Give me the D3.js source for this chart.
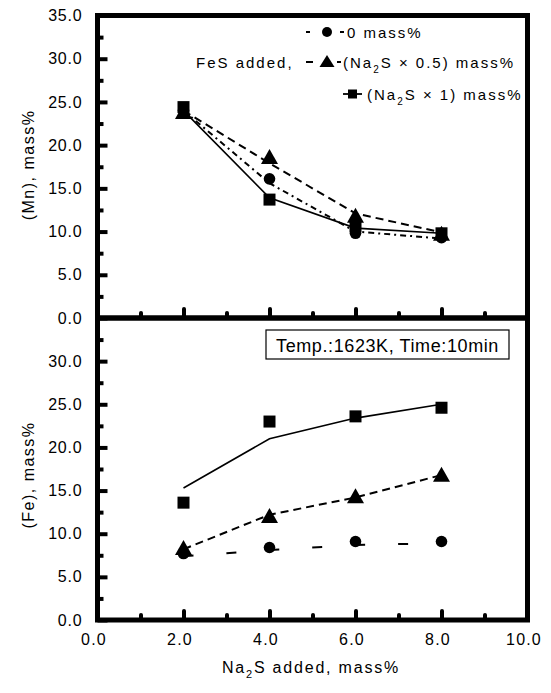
<!DOCTYPE html>
<html><head><meta charset="utf-8">
<script src="https://cdn.jsdelivr.net/npm/d3@7"></script>
<style>
body{margin:0;background:#fff}
text{font-family:"Liberation Sans",Arial,sans-serif;fill:#000}
</style></head><body>
<svg id="c" width="551" height="693"></svg>
<script>
// ---- data ----
const xValues=[2,4,6,8];
const mnZero=[24.0,16.1,9.8,9.3];
const mnHalf=[23.9,18.7,11.9,9.8];
const mnOne=[24.4,13.7,10.6,9.8];
const mnZeroFit=[24.0,15.6,10.0,9.2];
const mnHalfFit=[24.0,17.9,12.1,9.9];
const mnOneFit=[24.0,13.9,10.4,9.8];
const feZero=[7.7,8.4,9.1,9.1];
const feHalf=[8.4,12.1,14.4,16.9];
const feOne=[13.6,23.0,23.6,24.6];
const feZeroFit=[7.4,8.1,8.7,8.9];
const feHalfFit=[8.2,12.2,14.2,16.8];
const feOneFit=[15.3,21.0,23.4,25.0];
const xTickLabels=[0,2,4,6,8,10];
const xMinorTicks=[1,3,5,7,9];
const yTicksTop=[0,5,10,15,20,25,30,35];
const yTicksBottom=[0,5,10,15,20,25,30];
const yMinor=[2.5,7.5,12.5,17.5,22.5,27.5,32.5];
const seriesNames=["0 mass%","(Na2S × 0.5) mass%","(Na2S × 1) mass%"];

const svg=d3.select("#c");
const x=d3.scaleLinear().domain([0,10]).range([97.5,527.5]);
const yTop=d3.scaleLinear().domain([0,35]).range([318,15.5]);
const yBot=d3.scaleLinear().domain([0,35]).range([620,318]);

const dashZero="6,4,2,4", dashHalf="8,5";

function triPath(cx,cy,w,h){return `M${cx-w/2},${cy+h/2}L${cx},${cy-h/2}L${cx+w/2},${cy+h/2}Z`;}

function panel(y, fits, pts, zeroDash){
  const line=d3.line().x((d,i)=>x(xValues[i])).y(d=>y(d));
  svg.append("path").attr("d",line(fits[0])).attr("fill","none").attr("stroke","#000").attr("stroke-width",2).attr("stroke-dasharray",zeroDash);
  svg.append("path").attr("d",line(fits[1])).attr("fill","none").attr("stroke","#000").attr("stroke-width",2).attr("stroke-dasharray",dashHalf);
  svg.append("path").attr("d",line(fits[2])).attr("fill","none").attr("stroke","#000").attr("stroke-width",1.6);
  svg.append("g").selectAll("circle").data(pts[0]).join("circle")
    .attr("cx",(d,i)=>x(xValues[i])).attr("cy",d=>y(d)).attr("r",5.8).attr("fill","#000");
  svg.append("g").selectAll("path").data(pts[1]).join("path")
    .attr("d",(d,i)=>triPath(x(xValues[i]),y(d),17,15)).attr("fill","#000");
  svg.append("g").selectAll("rect").data(pts[2]).join("rect")
    .attr("x",(d,i)=>x(xValues[i])-6).attr("y",d=>y(d)-6).attr("width",12).attr("height",12).attr("fill","#000");
}

panel(yTop,[mnZeroFit,mnHalfFit,mnOneFit],[mnZero,mnHalf,mnOne],dashZero);
panel(yBot,[feZeroFit,feHalfFit,feOneFit],[feZero,feHalf,feOne],"10,33");

function yTicks(y, majors){
  const gM=svg.append("g").attr("transform","translate(97.5,0)")
    .call(d3.axisLeft(y).tickValues(majors).tickSize(-10).tickFormat(d3.format(".1f")).tickPadding(15));
  gM.select(".domain").remove();
  gM.selectAll("line").attr("stroke-width",4).attr("stroke","#000");
  gM.selectAll("text").style("font-size","16px").style("letter-spacing","0.8px").attr("fill","#000");
  const gm=svg.append("g").attr("transform","translate(97.5,0)")
    .call(d3.axisLeft(y).tickValues(yMinor).tickSize(-6).tickFormat(""));
  gm.select(".domain").remove();
  gm.selectAll("line").attr("stroke-width",4).attr("stroke","#000");
}
yTicks(yTop,yTicksTop);
yTicks(yBot,yTicksBottom);

function xTicks(y0, labels){
  const gM=svg.append("g").attr("transform",`translate(0,${y0})`)
    .call(d3.axisBottom(x).tickValues([2,4,6,8]).tickSize(-7).tickFormat(""));
  gM.select(".domain").remove();
  gM.selectAll("line").attr("stroke-width",4).attr("stroke","#000").attr("stroke-linecap","round");
  const gm=svg.append("g").attr("transform",`translate(0,${y0})`)
    .call(d3.axisBottom(x).tickValues(xMinorTicks).tickSize(-3).tickFormat(""));
  gm.select(".domain").remove();
  gm.selectAll("line").attr("stroke-width",4).attr("stroke","#000").attr("stroke-linecap","round");
  if(labels){
    const gl=svg.append("g").attr("transform",`translate(-4,${y0})`)
      .call(d3.axisBottom(x).tickValues(xTickLabels).tickSize(0).tickPadding(16).tickFormat(d3.format(".1f")));
    gl.select(".domain").remove();
    gl.selectAll("text").style("font-size","16px").style("letter-spacing","1.2px").attr("fill","#000");
  }
}
xTicks(yTop(0)-2,false);
xTicks(yBot(0)-2,true);

svg.append("rect").attr("x",x(0)).attr("y",yTop(35)).attr("width",x(10)-x(0)).attr("height",yTop(0)-yTop(35))
  .attr("fill","none").attr("stroke","#000").attr("stroke-width",5);
svg.append("rect").attr("x",x(0)).attr("y",yBot(35)).attr("width",x(10)-x(0)).attr("height",yBot(0)-yBot(35))
  .attr("fill","none").attr("stroke","#000").attr("stroke-width",5);

function yTitle(cy, name){
  svg.append("text").attr("transform",`translate(34,${cy}) rotate(-90)`).attr("text-anchor","middle")
    .style("font-size","16px").style("letter-spacing","1.5px").text(name);
}
yTitle(165,"(Mn), mass%");
yTitle(475,"(Fe), mass%");

const xt=svg.append("text").attr("x",311).attr("y",673).attr("text-anchor","middle").style("font-size","16px").style("letter-spacing","1.8px");
xt.append("tspan").text("Na");
xt.append("tspan").attr("dy",5).style("font-size","11px").text("2");
xt.append("tspan").attr("dy",-5).text("S added, mass%");

svg.append("rect").attr("x",266).attr("y",330).attr("width",243).attr("height",29).attr("fill","#fff").attr("stroke","#000").attr("stroke-width",1.2);
svg.append("text").attr("x",387.5).attr("y",352).attr("text-anchor","middle").style("font-size","18px").style("letter-spacing","0.6px").text("Temp.:1623K, Time:10min");

const lg=svg.append("g");
const fs="15px", ls="2px";
function sub(t, pre, post){
  t.append("tspan").text(pre);
  t.append("tspan").attr("dy",5).style("font-size","10px").text("2");
  t.append("tspan").attr("dy",-5).text(post);
}
const mx=327;
const r1=32;
lg.append("line").attr("x1",306).attr("x2",310).attr("y1",r1).attr("y2",r1).attr("stroke","#000").attr("stroke-width",2);
lg.append("circle").attr("cx",mx).attr("cy",r1).attr("r",5).attr("fill","#000");
lg.append("line").attr("x1",340).attr("x2",344).attr("y1",r1).attr("y2",r1).attr("stroke","#000").attr("stroke-width",2);
lg.append("text").attr("x",347).attr("y",r1+5.5).style("font-size",fs).style("letter-spacing",ls).text(seriesNames[0]);
const r2=62;
lg.append("text").attr("x",196).attr("y",r2+5.5).style("font-size",fs).style("letter-spacing",ls).text("FeS added,");
lg.append("line").attr("x1",306).attr("x2",313).attr("y1",r2).attr("y2",r2).attr("stroke","#000").attr("stroke-width",2);
lg.append("path").attr("d",triPath(mx,r2-1,15,12)).attr("fill","#000");
lg.append("line").attr("x1",337).attr("x2",341).attr("y1",r2).attr("y2",r2).attr("stroke","#000").attr("stroke-width",2);
sub(lg.append("text").attr("x",343).attr("y",r2+5.5).style("font-size",fs).style("letter-spacing",ls),"(Na","S × 0.5) mass%");
const r3=94;
lg.append("line").attr("x1",343).attr("x2",362).attr("y1",r3).attr("y2",r3).attr("stroke","#000").attr("stroke-width",1.8);
lg.append("rect").attr("x",348).attr("y",r3-4.5).attr("width",9).attr("height",9).attr("fill","#000");
sub(lg.append("text").attr("x",367).attr("y",r3+5.5).style("font-size",fs).style("letter-spacing",ls),"(Na","S × 1) mass%");
</script></body></html>
